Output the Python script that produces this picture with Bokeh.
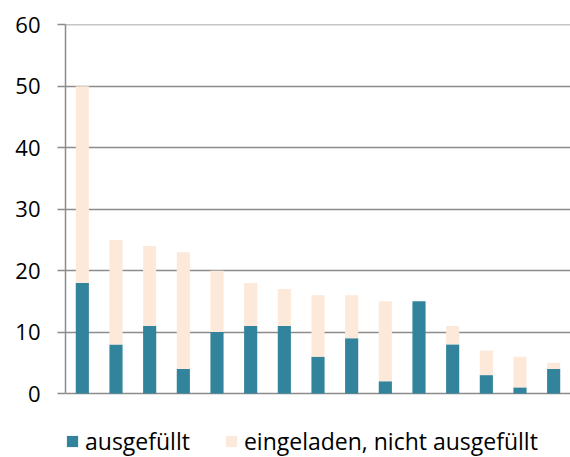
from bokeh.plotting import figure
from bokeh.models import FactorRange, Range1d, FixedTicker, Legend, LegendItem
from bokeh.embed import file_html
from bokeh.resources import INLINE

categories = [str(i) for i in range(1, 16)]
ausgefuellt = [18, 8, 11, 4, 10, 11, 11, 6, 9, 2, 15, 8, 3, 1, 4]
total = [50, 25, 24, 23, 20, 18, 17, 16, 16, 15, 15, 11, 7, 6, 5]
nicht = [t - a for t, a in zip(total, ausgefuellt)]
y_ticks = [0, 10, 20, 30, 40, 50, 60]
series_names = ["ausgefüllt", "eingeladen, nicht ausgefüllt"]
colors = ["#31849b", "#fde9d9"]

FONT = "Open Sans"
GRID = "#8c8c8c"

# frame runs to the bottom of the canvas; the strip below 0 holds the legend
Y_MAX = 60
Y_MIN = -Y_MAX * 64 / 369

p = figure(width=570, height=457, x_range=FactorRange(*categories, range_padding=0),
           y_range=Range1d(Y_MIN, Y_MAX + 0.05), output_backend="svg", toolbar_location=None,
           min_border_left=65, min_border_right=0, min_border_top=24, min_border_bottom=0)
p.outline_line_color = None

src = dict(cat=categories, a=ausgefuellt, n=nicht)
rs = p.vbar_stack(["a", "n"], x="cat", width=0.39, color=colors, source=src, line_color=None)

p.xaxis.visible = False
p.xgrid.grid_line_color = None
p.ygrid.grid_line_color = GRID
p.ygrid.grid_line_width = 1.5
p.yaxis.ticker = FixedTicker(ticks=y_ticks)
p.yaxis.bounds = (0, Y_MAX)
p.yaxis.axis_line_color = GRID
p.yaxis.axis_line_width = 1.5
p.yaxis.major_tick_line_color = GRID
p.yaxis.major_tick_line_width = 1.5
p.yaxis.major_tick_out = 8
p.yaxis.major_tick_in = 0
p.yaxis.minor_tick_line_color = None
p.yaxis.major_label_standoff = 17
p.yaxis.major_label_text_font = FONT
p.yaxis.major_label_text_font_size = "22px"
p.yaxis.major_label_text_color = "#000000"

legend = Legend(items=[LegendItem(label=series_names[0], renderers=[rs[0]]),
                       LegendItem(label=series_names[1], renderers=[rs[1]])],
                location=(0, 0), orientation="horizontal", padding=0, margin=0,
                spacing=34, glyph_width=14, glyph_height=14, label_standoff=6,
                label_text_font=FONT, label_text_font_size="23px", label_height=22,
                label_text_color="#000000",
                border_line_color=None, background_fill_alpha=0)
p.add_layout(legend, "center")

open("out.html", "w").write(file_html(p, INLINE))
